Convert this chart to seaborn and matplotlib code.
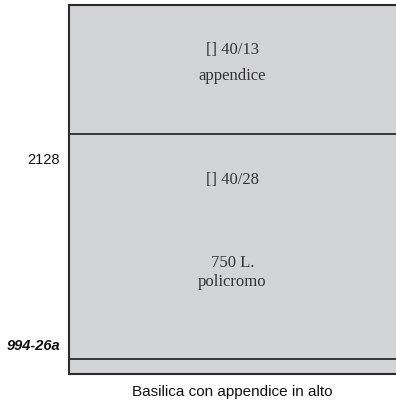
import pandas as pd
import matplotlib
matplotlib.use("Agg")
import matplotlib.pyplot as plt
import seaborn as sns

# segments of the section, bottom to top (height in % of total)
segments = ["base", "aula", "appendice"]
heights = [4, 61, 35]
# texts written inside the drawing
labels = ["[] 40/13", "appendice", "[] 40/28", "750 L.\npolicromo"]
tick_pos = [58.3, 8.1]
tick_labels = ["2128", "994-26a"]
title = "Basilica con appendice in alto"

fill = "#d3d4d6"
line = "#2b2b2b"

sns.set_theme(style="white")
plt.rcParams["font.family"] = ["Liberation Sans", "DejaVu Sans"]

df = pd.DataFrame({"seg": segments, "h": heights})
df["top"] = df["h"].cumsum()

fig = plt.figure(figsize=(3.96, 4.03), dpi=100)
ax = fig.add_axes([69 / 396, 29 / 403, 1 - 69 / 396, 369 / 403])

# overlay bars from tallest to shortest so the edges draw the dividing lines
for _, row in df.sort_values("top", ascending=False).iterrows():
    sns.barplot(x=["Basilica"], y=[row["top"]], color=fill, saturation=1,
                width=1.4, edgecolor=line, linewidth=1.3, ax=ax)

ax.set_xlim(-0.5, 0.5)
ax.set_ylim(0, df["top"].max())

# text inside the segments
text_y = [87.8, 80.8, 52.6, 27.6]
for t, y in zip(labels, text_y):
    ax.text(0, y, t, ha="center", va="center", fontsize=12,
            family="Liberation Serif", color="#333333", linespacing=1.25)

ax.set_yticks(tick_pos)
ax.set_yticklabels(tick_labels)
ax.tick_params(axis="y", length=0, pad=6.5, labelsize=10.5, labelcolor="#111111")
lbl = ax.get_yticklabels()
lbl[1].set_fontweight("bold")
lbl[1].set_fontstyle("italic")

ax.set_xticks([])
ax.set_xlabel(title, fontsize=11, labelpad=8, color="#111111")
ax.set_ylabel("")

for s in ["left", "top", "bottom"]:
    ax.spines[s].set_visible(True)
    ax.spines[s].set_color(line)
    ax.spines[s].set_linewidth(1.5)
ax.spines["right"].set_visible(False)

fig.savefig("out.png", dpi=100)
